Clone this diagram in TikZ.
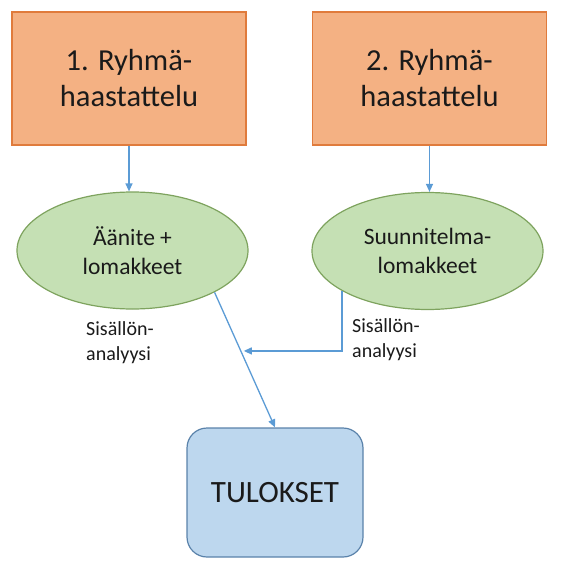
\documentclass[tikz,border=0pt]{standalone}
\usepackage{fontspec}
\setmainfont{Carlito}
\usetikzlibrary{shapes.geometric,arrows.meta,calc}
\definecolor{boxfill}{HTML}{F4B183}
\definecolor{boxline}{HTML}{E07B3C}
\definecolor{ellfill}{HTML}{C5E0B4}
\definecolor{ellline}{HTML}{7EA35E}
\definecolor{resfill}{HTML}{BDD7EE}
\definecolor{resline}{HTML}{5A82AA}
\definecolor{arrcol}{HTML}{5B9BD5}
\definecolor{txt}{HTML}{1A1A1A}
\tikzset{
  srcbox/.style={draw=boxline, fill=boxfill, line width=1.2pt, minimum width=234pt, minimum height=133pt, align=center, text=txt, font=\fontsize{30.5}{36}\selectfont},
  datael/.style={ellipse, draw=ellline, fill=ellfill, line width=1.2pt, minimum width=231pt, minimum height=117pt, align=center, text=txt, font=\fontsize{23.5}{29}\selectfont},
  resbox/.style={draw=resline, fill=resfill, line width=1.2pt, rounded corners=20pt, minimum width=176pt, minimum height=129pt, text=txt, font=\fontsize{31}{36}\selectfont},
  lbl/.style={align=left, inner sep=0pt, text=txt, anchor=west, font=\fontsize{20}{25}\selectfont},
  conn/.style={draw=arrcol, line width=1.3pt, -{Triangle[length=8pt,width=7pt]}}
}
\begin{document}
\begin{tikzpicture}[x=1pt,y=-1pt]
\useasboundingbox (0,0) rectangle (570,573);
\node[srcbox] (b1) at (129,78.5) {1. Ryhmä-\\haastattelu};
\node[srcbox] (b2) at (429.5,78.5) {2. Ryhmä-\\haastattelu};
\node[datael] (e1) at (132.5,250.5) {Äänite +\\lomakkeet};
\node[datael] (e2) at (427.5,251) {Suunnitelma-\\lomakkeet};
\node[resbox] (t) at (275,492.5) {TULOKSET};
\node[lbl] (l1) at (86,342.5) {Sisällön-\\analyysi};
\node[lbl] (l2) at (352,340) {Sisällön-\\analyysi};
\draw[conn] (b1.south) -- (b1.south |- e1.north);
\draw[conn] (b2.south) -- (b2.south |- e2.north);
\draw[conn] (e1.-27) -- (t.north);
\coordinate (m) at ($(e1.-27)!0.434!(t.north)$);
\coordinate (mt) at ([xshift=3pt]m);
\draw[conn] (e2.205.6) |- (mt);
\end{tikzpicture}
\end{document}
